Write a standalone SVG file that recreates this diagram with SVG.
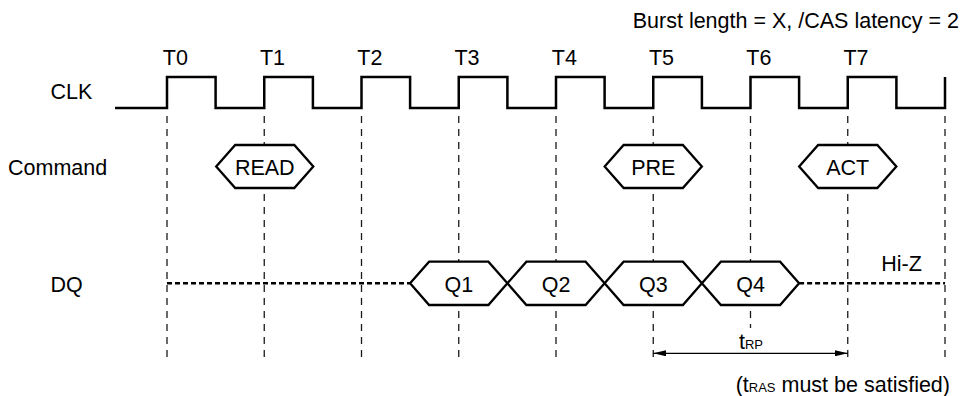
<svg xmlns="http://www.w3.org/2000/svg" width="962" height="396" viewBox="0 0 962 396">
<defs>
<style>
text{font-family:"Liberation Sans",Arial,Helvetica,sans-serif;font-size:21.5px;fill:#000}
.sub{font-size:13px}
.grid{stroke:#1a1a1a;stroke-width:1.3;stroke-dasharray:7 6;fill:none}
.wave{stroke:#000;stroke-width:2.5;fill:none;stroke-linejoin:miter}
.hex{stroke:#000;stroke-width:2.3;fill:#fff;stroke-linejoin:miter}
.hiz{stroke:#000;stroke-width:2.5;stroke-dasharray:5 3;fill:none}
.dim{stroke:#000;stroke-width:1.3;fill:none}
</style>
<marker id="ah" viewBox="0 0 13 6" refX="13" refY="3" markerWidth="13" markerHeight="6" markerUnits="userSpaceOnUse" orient="auto-start-reverse">
<path d="M0,0 L13,3 L0,6 Z" fill="#000"/>
</marker>
</defs>
<rect width="962" height="396" fill="#fff"/>

<g id="connectors">
<g id="gridlines" class="grid">
<line x1="167" y1="116" x2="167" y2="363"/>
<line x1="264.25" y1="116" x2="264.25" y2="363"/>
<line x1="361.5" y1="116" x2="361.5" y2="363"/>
<line x1="458.75" y1="116" x2="458.75" y2="363"/>
<line x1="556" y1="116" x2="556" y2="363"/>
<line x1="653.25" y1="116" x2="653.25" y2="363"/>
<line x1="750.5" y1="116" x2="750.5" y2="328"/>
<line x1="847.75" y1="116" x2="847.75" y2="363"/>
<line x1="945" y1="116" x2="945" y2="363"/>
</g>
<line id="trp-arrow" class="dim" x1="653.25" y1="353.3" x2="847.75" y2="353.3" marker-start="url(#ah)" marker-end="url(#ah)"/>
</g>

<g id="title"><text x="959" y="28" text-anchor="end">Burst length = X, /CAS latency = 2</text></g>

<g id="tlabels" text-anchor="middle">
<text x="175.3" y="65">T0</text>
<text x="272.5" y="65">T1</text>
<text x="369.8" y="65">T2</text>
<text x="467" y="65">T3</text>
<text x="564.3" y="65">T4</text>
<text x="661.5" y="65">T5</text>
<text x="758.8" y="65">T6</text>
<text x="856" y="65">T7</text>
</g>

<g id="signal-labels">
<text x="50.5" y="99">CLK</text>
<text x="8" y="174.5">Command</text>
<text x="50.5" y="291.5">DQ</text>
</g>

<g id="clk">
<path class="wave" d="M115 108 H167 V77 H215.6 V108 H264.25 V77 H312.9 V108 H361.5 V77 H410.1 V108 H458.75 V77 H507.4 V108 H556 V77 H604.6 V108 H653.25 V77 H701.9 V108 H750.5 V77 H799.1 V108 H847.75 V77 H896.4 V108 H945 V77"/>
</g>

<g id="cmd-read">
<polygon class="hex" points="216.2,166.5 235.2,145 294.3,145 313.3,166.5 294.3,188 235.2,188"/>
<text x="264.75" y="174.5" text-anchor="middle">READ</text>
</g>
<g id="cmd-pre">
<polygon class="hex" points="604.65,166.5 623.65,145 682.85,145 701.85,166.5 682.85,188 623.65,188"/>
<text x="653.25" y="174.5" text-anchor="middle">PRE</text>
</g>
<g id="cmd-act">
<polygon class="hex" points="799.15,166.5 818.15,145 877.35,145 896.35,166.5 877.35,188 818.15,188"/>
<text x="847.75" y="174.5" text-anchor="middle">ACT</text>
</g>

<g id="dq-hiz">
<line class="hiz" x1="167" y1="283.3" x2="410.1" y2="283.3"/>
<line class="hiz" x1="799.1" y1="283.3" x2="945" y2="283.3"/>
<text x="881.2" y="270.7">Hi-Z</text>
</g>

<g id="dq-q1">
<polygon class="hex" points="410.1,283.3 429.1,261.7 488.4,261.7 507.4,283.3 488.4,305 429.1,305"/>
<text x="458.75" y="291.5" text-anchor="middle">Q1</text>
</g>
<g id="dq-q2">
<polygon class="hex" points="507.4,283.3 526.4,261.7 585.6,261.7 604.6,283.3 585.6,305 526.4,305"/>
<text x="556" y="291.5" text-anchor="middle">Q2</text>
</g>
<g id="dq-q3">
<polygon class="hex" points="604.6,283.3 623.6,261.7 682.9,261.7 701.9,283.3 682.9,305 623.6,305"/>
<text x="653.25" y="291.5" text-anchor="middle">Q3</text>
</g>
<g id="dq-q4">
<polygon class="hex" points="701.9,283.3 720.9,261.7 780.1,261.7 799.1,283.3 780.1,305 720.9,305"/>
<text x="750.5" y="291.5" text-anchor="middle">Q4</text>
</g>

<g id="trp-label"><text x="739" y="349">t<tspan class="sub">RP</tspan></text></g>
<g id="note"><text x="950" y="392" text-anchor="end">(t<tspan class="sub">RAS</tspan> must be satisfied)</text></g>
</svg>
